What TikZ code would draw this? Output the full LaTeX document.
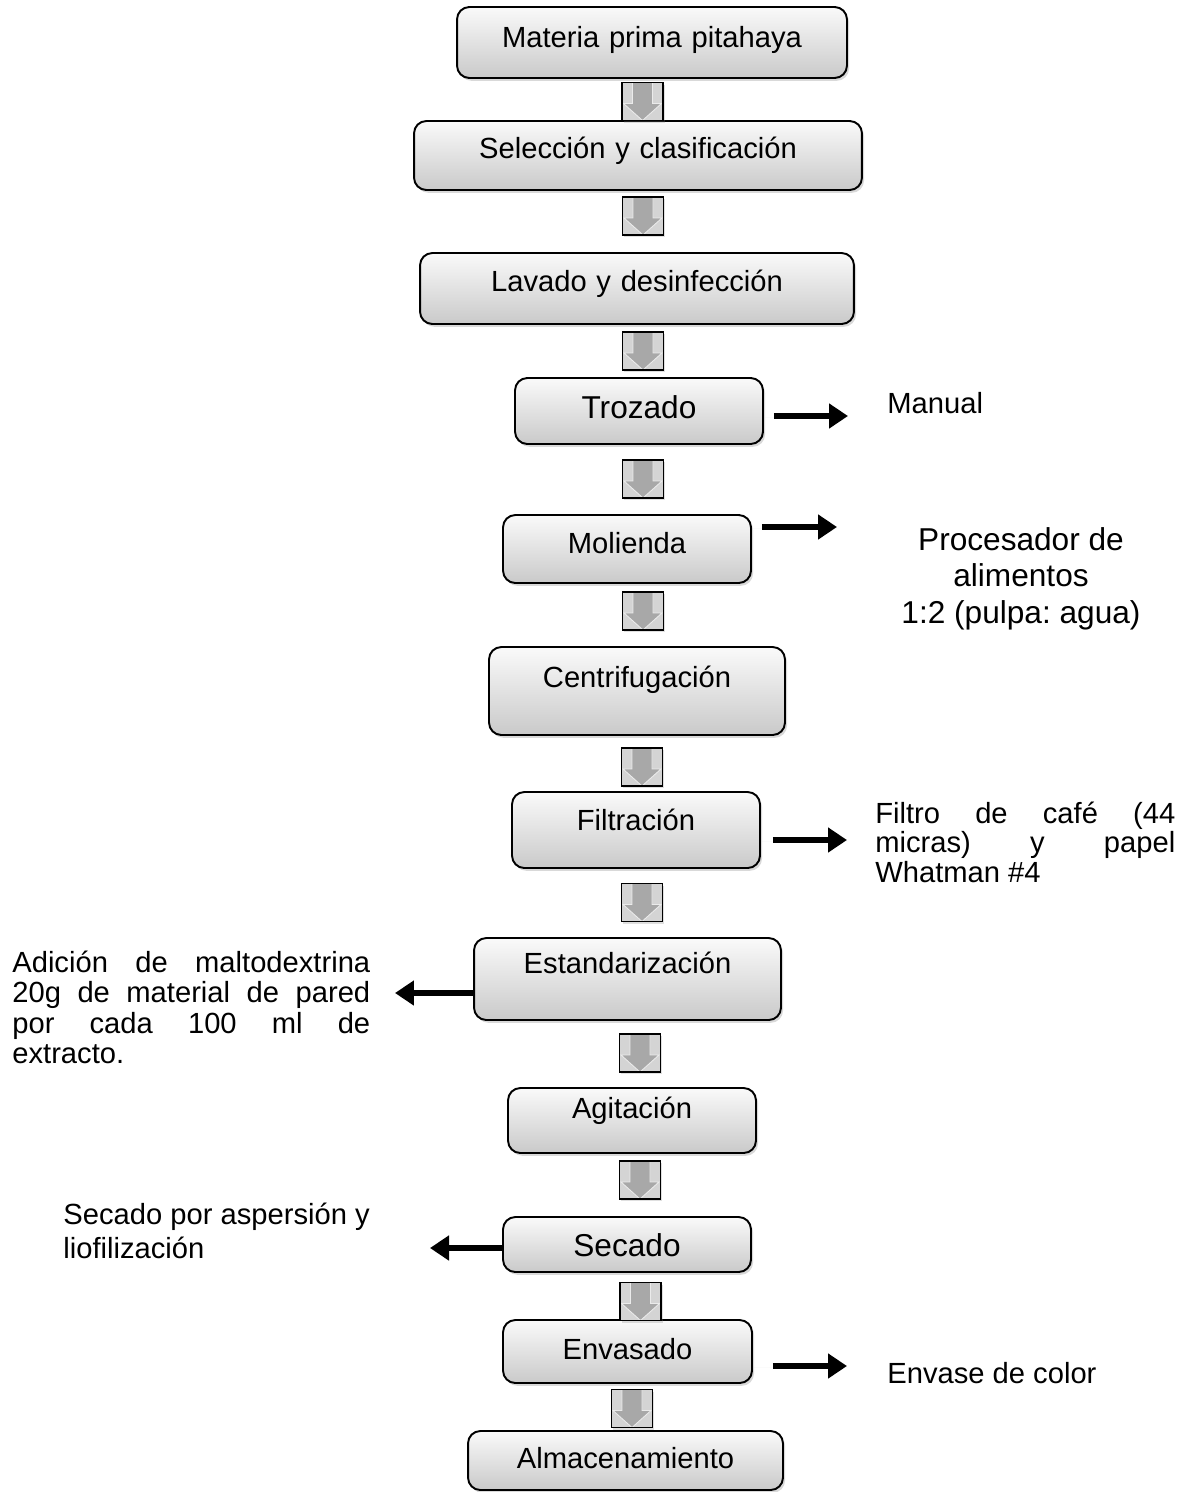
\documentclass[tikz,border=0pt]{standalone}
\usepackage{fontspec}
\setmainfont{Liberation Sans}
\frenchspacing
\usetikzlibrary{arrows.meta}
\usetikzlibrary{shadows}
\tikzset{
    stepbox/.style = {draw=black, line width=1.1pt, rounded corners=7pt, top color=black!2, bottom color=black!21, drop shadow={shadow xshift=1.2pt, shadow yshift=-1.6pt, opacity=0.3}, align=center, inner sep=0pt, anchor=base, font=\fontsize{16.6}{19.9}\selectfont},
    big/.style = {font=\fontsize{18}{21.6}\selectfont},
    boxsize/.style n args = {3}{text width=#1, text height=#2, text depth=#3},
    conn/.style = {draw=black, line width=0.9pt, fill=black!17, minimum width=0.82cm, minimum height=0.76cm, inner sep=0pt, drop shadow={shadow xshift=1pt, shadow yshift=-1.2pt, opacity=0.25},
        path picture={\fill[black!34, draw=black!8, line width=0.5pt, shift={(path picture bounding box.center)}] (-10,-19) -- (10,-19) -- (10,2) -- (19,2) -- (0,19) -- (-19,2) -- (-10,2) -- cycle;}},
    side/.style = {line width=3.4pt, -{Triangle[length=0.38cm, width=0.48cm]}, drop shadow={shadow xshift=0.6pt, shadow yshift=-0.8pt, opacity=0.25}},
    note/.style = {inner sep=0pt, anchor=base west, font=\fontsize{16.6}{19.9}\selectfont}
}

\begin{document}
\begin{tikzpicture}[x=0.02cm, y=-0.02cm]
    \useasboundingbox (0,0) rectangle (1180,1492);

    \node[stepbox, boxsize={7.8cm}{0.8cm}{0.62cm}] (mat) at (652,47) {Materia prima pitahaya};
    \node[stepbox, boxsize={8.96cm}{0.74cm}{0.64cm}] (sel) at (638,158) {Selección y clasificación};
    \node[stepbox, boxsize={8.68cm}{0.76cm}{0.66cm}] (lav) at (637,291) {Lavado y desinfección};
    \node[stepbox, big, boxsize={4.96cm}{0.8cm}{0.52cm}] (tro) at (639,418) {Trozado};
    \node[stepbox, boxsize={4.96cm}{0.76cm}{0.6cm}] (mol) at (627,553) {Molienda};
    \node[stepbox, boxsize={5.92cm}{0.8cm}{0.96cm}] (cen) at (637,687) {Centrifugación};
    \node[stepbox, boxsize={4.96cm}{0.76cm}{0.76cm}] (fil) at (636,830) {Filtración};
    \node[stepbox, boxsize={6.14cm}{0.7cm}{0.94cm}] (est) at (627.5,973) {Estandarización};
    \node[stepbox, boxsize={4.96cm}{0.6cm}{0.7cm}] (agi) at (632,1118) {Agitación};
    \node[stepbox, big, boxsize={4.96cm}{0.78cm}{0.32cm}] (sec) at (627,1256) {Secado};
    \node[stepbox, boxsize={4.98cm}{0.78cm}{0.48cm}] (env) at (627.5,1359) {Envasado};
    \node[stepbox, boxsize={6.3cm}{0.74cm}{0.44cm}] (alm) at (625.5,1468) {Almacenamiento};

    \node[conn] (c1) at (642.5,101.5) {};
    \node[conn] (c2) at (643,216) {};
    \node[conn] (c3) at (643,351) {};
    \node[conn] (c4) at (643,479) {};
    \node[conn] (c5) at (643,611) {};
    \node[conn] (c6) at (642,767) {};
    \node[conn] (c7) at (642,902.5) {};
    \node[conn] (c8) at (640,1053) {};
    \node[conn] (c9) at (640,1180) {};
    \node[conn] (c10) at (640.5,1301.5) {};
    \node[conn] (c11) at (632,1408.5) {};

    \node[note] (manual) at (887,413) {Manual};
    \node[note, anchor=base, align=center, font=\fontsize{18}{20.5}\selectfont] (proc) at (1021,623) {Procesador de\\alimentos\\1:2 (pulpa: agua)};
    \node[note, text width=6cm, align=justify, font=\fontsize{16.6}{16.8}\selectfont] (filtro) at (875,823) {\hyphenpenalty=10000 Filtro de café (44\linebreak micras) y papel\linebreak Whatman \#4};
    \node[note, text width=7.16cm, align=justify, font=\fontsize{16.6}{17.4}\selectfont] (adic) at (12,972) {\hyphenpenalty=10000 Adición de maltodextrina\linebreak 20g de material de pared\linebreak por cada 100 ml de\linebreak extracto.};
    \node[note, align=left, font=\fontsize{16.6}{18.8}\selectfont] (asp) at (63,1258) {Secado por aspersión y\\liofilización};
    \node[note] (envase) at (887,1383) {Envase de color};

    \coordinate (t1) at (848,416);
    \coordinate (t2) at (837,527);
    \coordinate (t3) at (847,840);
    \coordinate (t4) at (395,993);
    \coordinate (t5) at (430,1248);
    \coordinate (t6) at (847,1366);

    \draw[side, shorten <=0.2cm] (tro.east |- t1) -- (t1);
    \draw[side, shorten <=0.2cm] (mol.east |- t2) -- (t2);
    \draw[side, shorten <=0.24cm] (fil.east |- t3) -- (t3);
    \draw[side] (est.west |- t4) -- (t4);
    \draw[side] (sec.west |- t5) -- (t5);
    \draw[side, shorten <=0.4cm] (env.east |- t6) -- (t6);
\end{tikzpicture}
\end{document}
